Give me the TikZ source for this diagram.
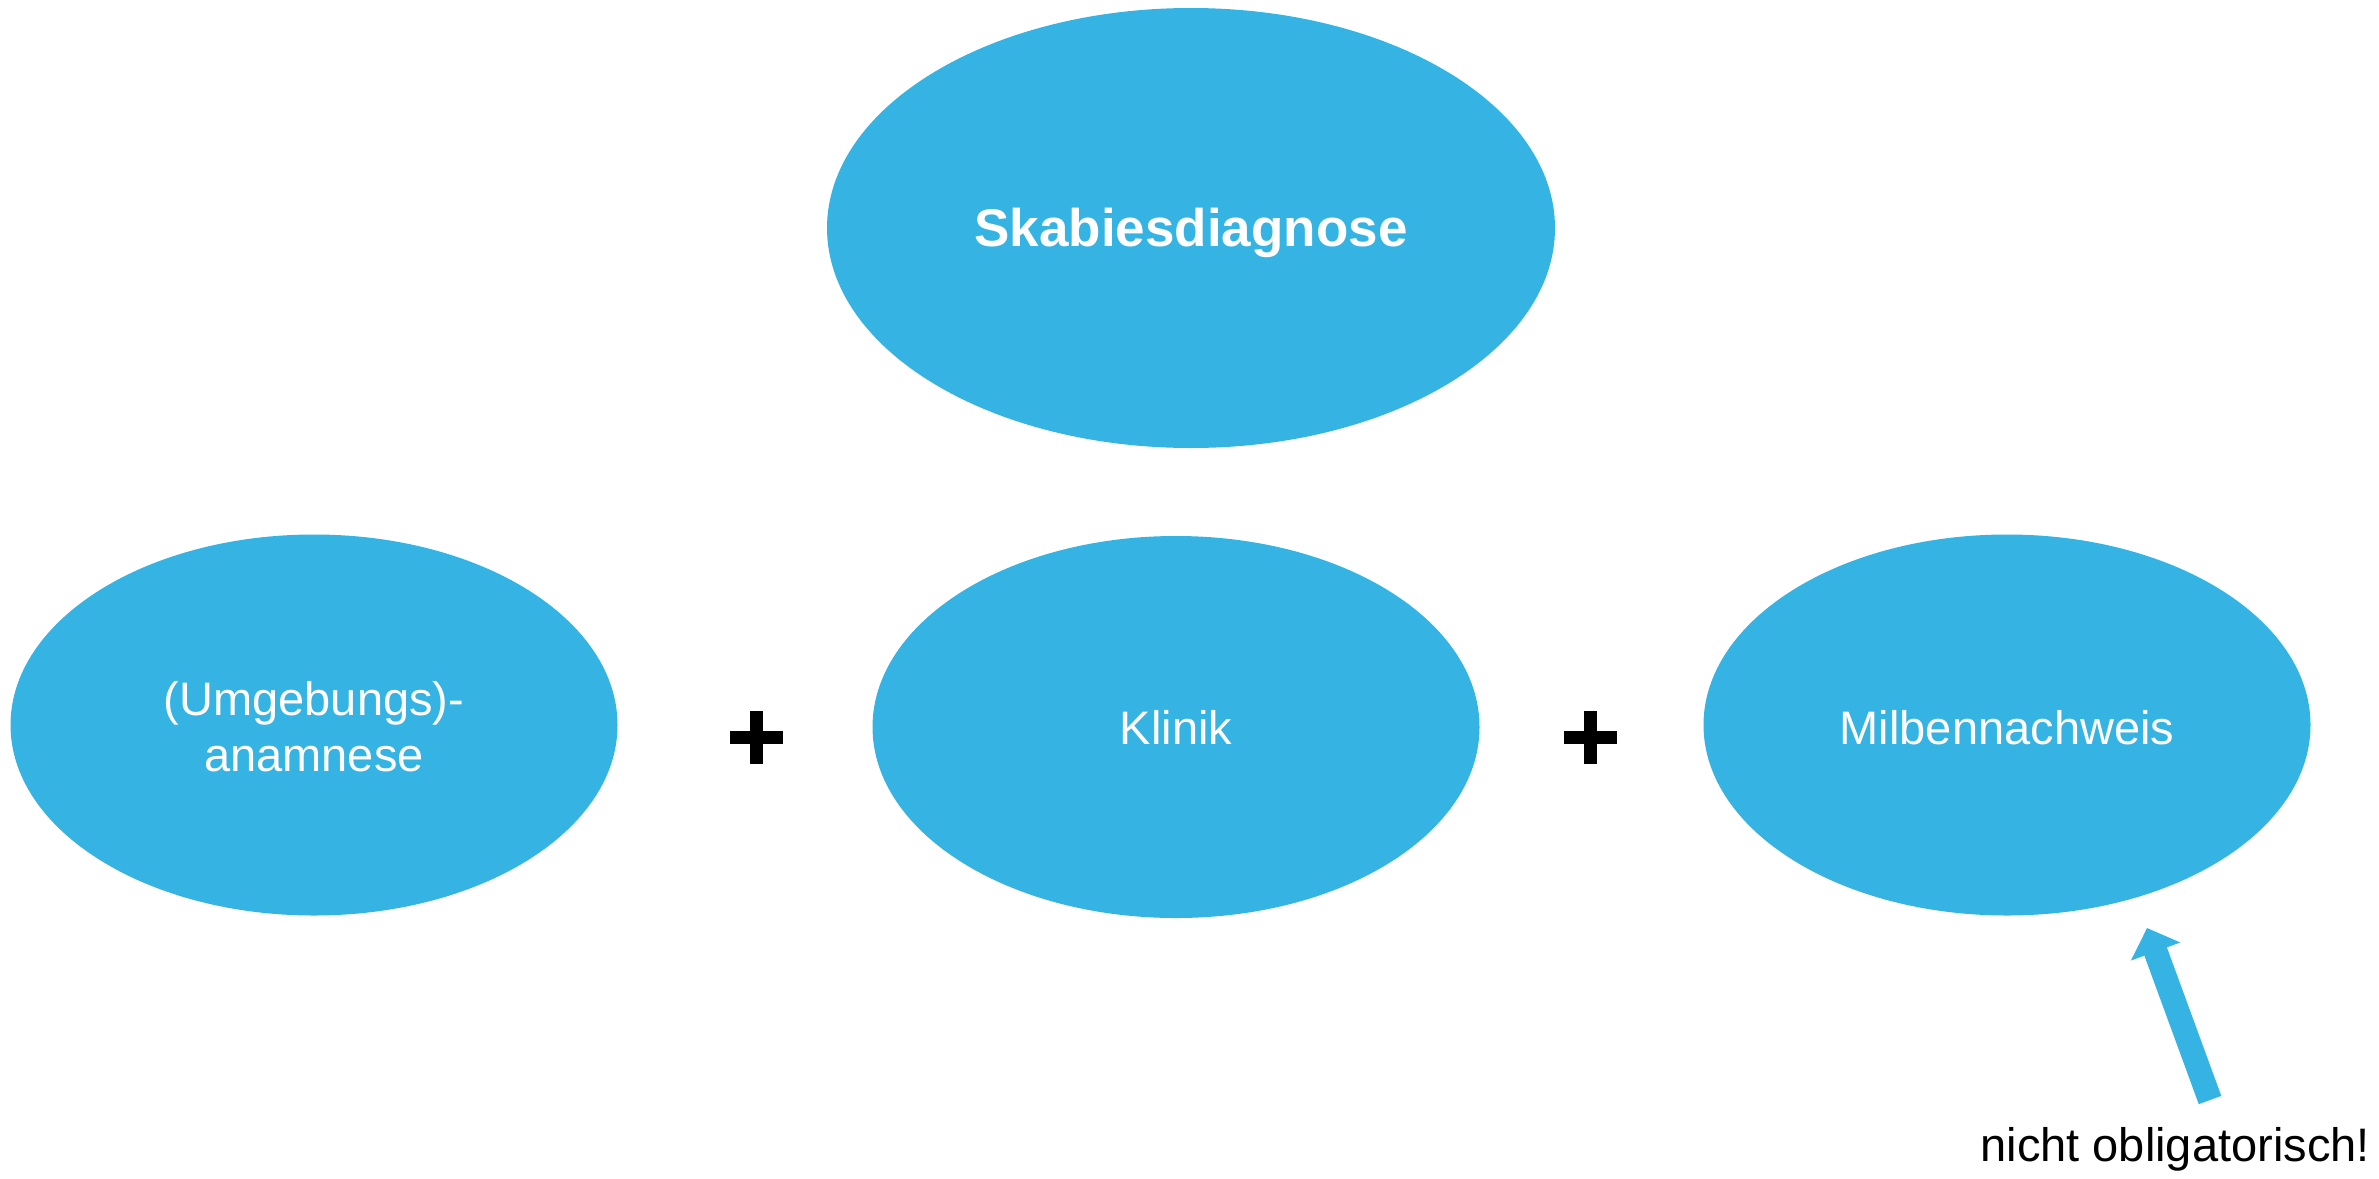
\documentclass[tikz,border=0pt]{standalone}
\usepackage{fontspec}
\setmainfont{Liberation Sans}
\usetikzlibrary{shapes.geometric,arrows.meta}
\definecolor{skyblue}{RGB}{53,179,227}
\tikzset{
  blob/.style={ellipse, fill=skyblue, draw=none, inner sep=0pt, text=white, align=center,
    font=\fontsize{47}{56}\selectfont},
  plusbar/.style={fill=black},
}
\begin{document}
\begin{tikzpicture}[x=1pt,y=-1pt]
\useasboundingbox (0,0) rectangle (2379,1178);
\node[blob, minimum width=728pt, minimum height=440pt, font=\fontsize{53}{64}\selectfont\bfseries] (top) at (1191,228) {};
\node[text=white, font=\fontsize{53}{64}\selectfont\bfseries, inner sep=0pt] (toplabel) at (1191,233) {Skabiesdiagnose};
\node[blob, minimum width=607pt, minimum height=381pt] (anam) at (314,725) {};
\node[text=white, align=center, font=\fontsize{47}{56}\selectfont, inner sep=0pt] (anamlabel) at (314,727) {(Umgebungs)-\\anamnese};
\node[blob, minimum width=607pt, minimum height=382pt] (klinik) at (1176,727) {Klinik};
\node[blob, minimum width=607pt, minimum height=381pt] (milb) at (2007,725) {};
\node[text=white, font=\fontsize{47}{56}\selectfont, inner sep=0pt] (milblabel) at (2007,728) {Milbennachweis};
% plus signs
\coordinate (p1) at (756,737);
\coordinate (p2) at (1590,737);
\foreach \p in {p1,p2}{
  \fill[plusbar] ([shift={(-26.5,-6.5)}]\p) rectangle ([shift={(26.5,6.5)}]\p);
  \fill[plusbar] ([shift={(-6.5,-26.5)}]\p) rectangle ([shift={(6.5,26.5)}]\p);
}
\node[anchor=base east, inner sep=0pt, font=\fontsize{47}{56}\selectfont] (note) at (2370,1161) {nicht obligatorisch!};
\coordinate (tail) at (2210,1100);
\coordinate (tip) at (2147,928);
\draw[skyblue, line width=24pt, -{Triangle[length=25pt,width=51pt]}] (tail) -- (tip);
\end{tikzpicture}
\end{document}
